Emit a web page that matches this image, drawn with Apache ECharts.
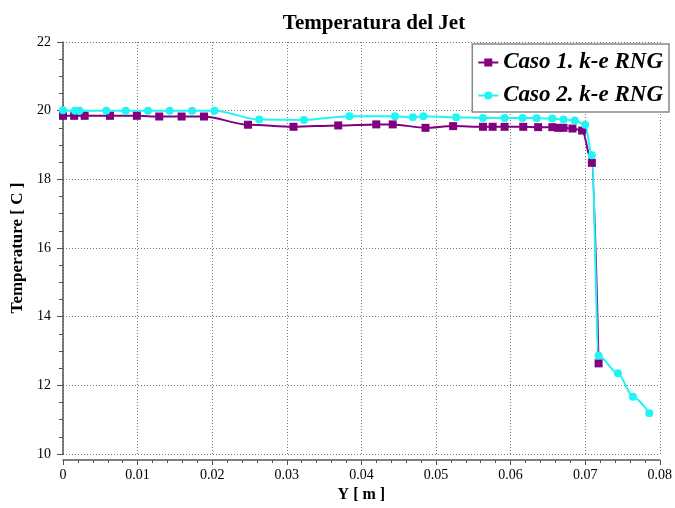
<!DOCTYPE html>
<html lang="es">
  <head>
    <meta charset="utf-8" />
  </head>
  <body style="margin: 0">
    <div id="container" style="width: 675px; height: 508px"></div>

    <script src="https://cdn.jsdelivr.net/npm/echarts@6/dist/echarts.min.js"></script>

    <script>
      var serif = "'Liberation Serif', 'DejaVu Serif', serif";

      // Caso 1. k-e RNG
      var yCaso1 = [0, 0.0015, 0.0029, 0.0063, 0.0099, 0.0129, 0.0159, 0.0189, 0.0248, 0.0309,
        0.0369, 0.042, 0.0442, 0.0486, 0.0523, 0.0563, 0.0576, 0.0592, 0.0617, 0.0637,
        0.0656, 0.0664, 0.0671, 0.0683, 0.0696, 0.0709, 0.0718];
      var tCaso1 = [19.85, 19.85, 19.85, 19.85, 19.85, 19.83, 19.83, 19.83, 19.59, 19.53,
        19.57, 19.6, 19.6, 19.5, 19.55, 19.53, 19.53, 19.53, 19.53, 19.52,
        19.52, 19.5, 19.5, 19.48, 19.42, 18.48, 12.64];

      // Caso 2. k-e RNG
      var yCaso2 = [0, 0.0016, 0.0022, 0.0058, 0.0084, 0.0114, 0.0143, 0.0173, 0.0203, 0.0263,
        0.0323, 0.0384, 0.0445, 0.0469, 0.0483, 0.0527, 0.0563, 0.0592, 0.0616, 0.0635,
        0.0656, 0.0671, 0.0686, 0.07, 0.0709, 0.0718, 0.0744, 0.0764, 0.0786];
      var tCaso2 = [20.01, 20, 20, 20, 20, 20, 20, 20, 20, 19.74,
        19.73, 19.84, 19.84, 19.81, 19.84, 19.81, 19.79, 19.79, 19.79, 19.78,
        19.77, 19.74, 19.71, 19.59, 18.7, 12.86, 12.35, 11.67, 11.19];

      function pairs(xs, ys) {
        return xs.map(function (x, i) {
          return [x, ys[i]];
        });
      }

      var myChart = echarts.init(document.getElementById("container"), null, {
        renderer: "canvas",
      });

      var gridLine = { show: true, lineStyle: { color: "#777", type: [1, 2], width: 1 } };

      var option = {
        animation: false,
        backgroundColor: "#fff",
        title: {
          text: "Temperatura del Jet",
          left: 369,
          textAlign: "center",
          top: 8,
          textStyle: { fontFamily: serif, fontSize: 21, fontWeight: "bold", color: "#000" },
        },
        legend: {
          orient: "vertical",
          right: 6,
          top: 44,
          padding: [7, 6, 5, 5],
          itemGap: 10,
          itemWidth: 20,
          itemHeight: 10,
          backgroundColor: "#fff",
          borderColor: "#888",
          borderWidth: 1.5,
          textStyle: {
            fontFamily: serif,
            fontSize: 23,
            fontStyle: "italic",
            fontWeight: "bold",
            color: "#000",
          },
        },
        grid: { left: 63, right: 14, top: 42, bottom: 52 },
        xAxis: {
          type: "value",
          min: 0,
          max: 0.08,
          interval: 0.01,
          offset: 6,
          name: "Y [ m ]",
          nameLocation: "middle",
          nameGap: 27,
          nameTextStyle: { fontFamily: serif, fontSize: 16, fontWeight: "bold", color: "#000" },
          axisLine: { lineStyle: { color: "#555", width: 1.5 } },
          axisTick: { length: 5, lineStyle: { color: "#555" } },
          minorTick: { show: true, splitNumber: 5, length: 3, lineStyle: { color: "#555" } },
          axisLabel: { fontFamily: serif, fontSize: 14, color: "#000", margin: 8 },
          splitLine: gridLine,
        },
        yAxis: {
          type: "value",
          min: 10,
          max: 22,
          interval: 2,
          offset: 6,
          name: "Temperature [ C ]",
          nameLocation: "middle",
          nameGap: 29,
          nameTextStyle: { fontFamily: serif, fontSize: 17, fontWeight: "bold", color: "#000" },
          axisLine: { show: true, lineStyle: { color: "#555", width: 1.5 } },
          axisTick: { show: true, length: 6, lineStyle: { color: "#555" } },
          minorTick: { show: true, splitNumber: 4, length: 4, lineStyle: { color: "#555" } },
          axisLabel: { fontFamily: serif, fontSize: 14, color: "#000", margin: 6 },
          splitLine: gridLine,
        },
        series: [
          {
            name: "Caso 1. k-e RNG",
            type: "line",
            data: pairs(yCaso1, tCaso1),
            symbol: "rect",
            symbolSize: 8,
            smooth: 0.3,
            smoothMonotone: "x",
            itemStyle: { color: "#800080" },
            lineStyle: { color: "#800080", width: 2 },
          },
          {
            name: "Caso 2. k-e RNG",
            type: "line",
            data: pairs(yCaso2, tCaso2),
            symbol: "circle",
            symbolSize: 8,
            smooth: 0.3,
            smoothMonotone: "x",
            itemStyle: { color: "#1ff5f5" },
            lineStyle: { color: "#1ff5f5", width: 2 },
          },
        ],
      };

      myChart.setOption(option);
    </script>
  </body>
</html>
